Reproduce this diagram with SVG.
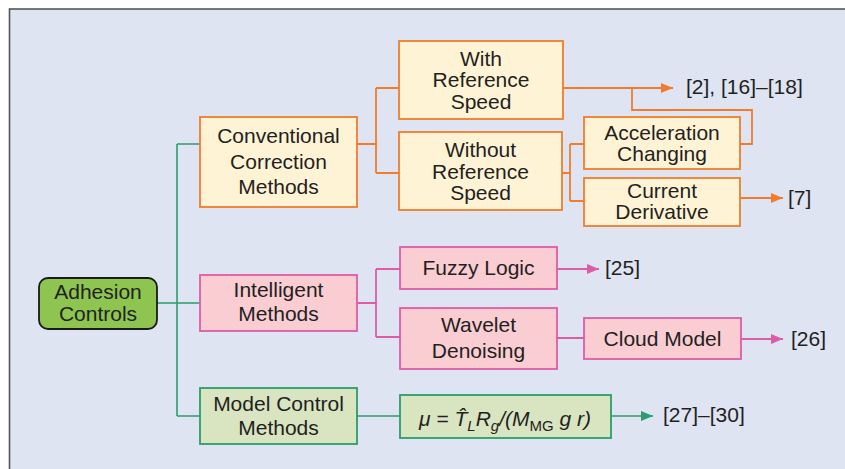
<svg xmlns="http://www.w3.org/2000/svg" width="845" height="469" viewBox="0 0 845 469">
<defs>
<style>
.t{font-family:"Liberation Sans",Arial,sans-serif;font-size:21px;fill:#231f20;text-anchor:middle}
.r{font-family:"Liberation Sans",Arial,sans-serif;font-size:21px;fill:#231f20}
.bo{fill:#fff3d6;stroke:#ef7d2d;stroke-width:1.8}
.bp{fill:#f9cdd2;stroke:#dc5ca6;stroke-width:1.8}
.bg{fill:#d9e4c1;stroke:#2a9d6b;stroke-width:1.8}
.co{fill:none;stroke:#ef7d2d;stroke-width:1.8}
.cp{fill:none;stroke:#dc5ca6;stroke-width:1.8}
.cg{fill:none;stroke:#2a9d6b;stroke-width:1.6}
</style>
<marker id="ao" markerUnits="userSpaceOnUse" markerWidth="12" markerHeight="10" refX="12" refY="5" orient="auto"><path d="M0,0 L12,5 L0,10 Z" fill="#ef7d2d"/></marker>
<marker id="ap" markerUnits="userSpaceOnUse" markerWidth="12" markerHeight="10" refX="12" refY="5" orient="auto"><path d="M0,0 L12,5 L0,10 Z" fill="#dc5ca6"/></marker>
<marker id="ag" markerUnits="userSpaceOnUse" markerWidth="12" markerHeight="10" refX="12" refY="5" orient="auto"><path d="M0,0 L12,5 L0,10 Z" fill="#2a9d6b"/></marker>
</defs>
<rect x="0" y="0" width="845" height="469" fill="#ffffff"/>
<rect x="9.5" y="9" width="860" height="480" fill="#dfe4f2" stroke="#555" stroke-width="1.6"/>

<g id="connectors">
<path class="cg" d="M177,144 V416 M177,144 H200 M157,303 H200 M177,416 H200 M357,416 H400"/>
<path class="cg" d="M611,416 H653" marker-end="url(#ag)"/>
<path class="co" d="M357,144 H376 M376,88 V173 M376,88 H399 M376,173 H399"/>
<path class="co" d="M563,88 H673" marker-end="url(#ao)"/>
<path class="co" d="M632,88 V110 H752 V144 H740"/>
<path class="co" d="M562,173 H570 M570,144 V201 M570,144 H584 M570,201 H584"/>
<path class="co" d="M740,198 H783" marker-end="url(#ao)"/>
<path class="cp" d="M357,303 H376 M376,269 V337 M376,269 H400 M376,337 H400 M557,338 H584"/>
<path class="cp" d="M557,269 H599" marker-end="url(#ap)"/>
<path class="cp" d="M741,339 H783" marker-end="url(#ap)"/>
</g>

<g id="adhesion">
<rect x="39" y="278" width="118" height="51" rx="9" fill="#8dc550" stroke="#1a1a1a" stroke-width="1.8"/>
<text class="t" x="98" y="299">Adhesion</text>
<text class="t" x="98" y="321">Controls</text>
</g>
<g id="conventional">
<rect class="bo" x="200" y="117" width="157" height="90"/>
<text class="t" x="278.5" y="143">Conventional</text>
<text class="t" x="278.5" y="169">Correction</text>
<text class="t" x="278.5" y="194">Methods</text>
</g>
<g id="withref">
<rect class="bo" x="399" y="41" width="164" height="78"/>
<text class="t" x="481" y="66">With</text>
<text class="t" x="481" y="87">Reference</text>
<text class="t" x="481" y="109">Speed</text>
</g>
<g id="withoutref">
<rect class="bo" x="399" y="132" width="163" height="78"/>
<text class="t" x="480.5" y="157">Without</text>
<text class="t" x="480.5" y="179">Reference</text>
<text class="t" x="480.5" y="200">Speed</text>
</g>
<g id="accel">
<rect class="bo" x="584" y="117" width="156" height="52"/>
<text class="t" x="662" y="140">Acceleration</text>
<text class="t" x="662" y="161">Changing</text>
</g>
<g id="current">
<rect class="bo" x="584" y="178" width="156" height="48"/>
<text class="t" x="662" y="198">Current</text>
<text class="t" x="662" y="219">Derivative</text>
</g>
<g id="intelligent">
<rect class="bp" x="200" y="275" width="157" height="56"/>
<text class="t" x="278.5" y="297">Intelligent</text>
<text class="t" x="278.5" y="321">Methods</text>
</g>
<g id="fuzzy">
<rect class="bp" x="400" y="247" width="157" height="42"/>
<text class="t" x="478.5" y="275">Fuzzy Logic</text>
</g>
<g id="wavelet">
<rect class="bp" x="400" y="308" width="157" height="61"/>
<text class="t" x="478.5" y="332">Wavelet</text>
<text class="t" x="478.5" y="358">Denoising</text>
</g>
<g id="cloud">
<rect class="bp" x="584" y="318" width="157" height="41"/>
<text class="t" x="662.5" y="346">Cloud Model</text>
</g>
<g id="modelcontrol">
<rect class="bg" x="200" y="388" width="157" height="56"/>
<text class="t" x="278.5" y="411">Model Control</text>
<text class="t" x="278.5" y="435">Methods</text>
</g>
<g id="formula">
<rect class="bg" x="400" y="395" width="211" height="43"/>
<text class="t" x="505" y="426" font-style="italic">μ = T̂<tspan font-size="15" dy="5">L</tspan><tspan dy="-5">R</tspan><tspan font-size="15" dy="5">g</tspan><tspan dy="-5">/(M</tspan><tspan font-size="15" font-style="normal" dy="5">MG</tspan><tspan dy="-5"> g r)</tspan></text>
</g>

<g id="refs">
<text class="r" x="686" y="94">[2], [16]–[18]</text>
<text class="r" x="788" y="205">[7]</text>
<text class="r" x="605" y="275">[25]</text>
<text class="r" x="791" y="346">[26]</text>
<text class="r" x="663" y="422">[27]–[30]</text>
</g>
</svg>
